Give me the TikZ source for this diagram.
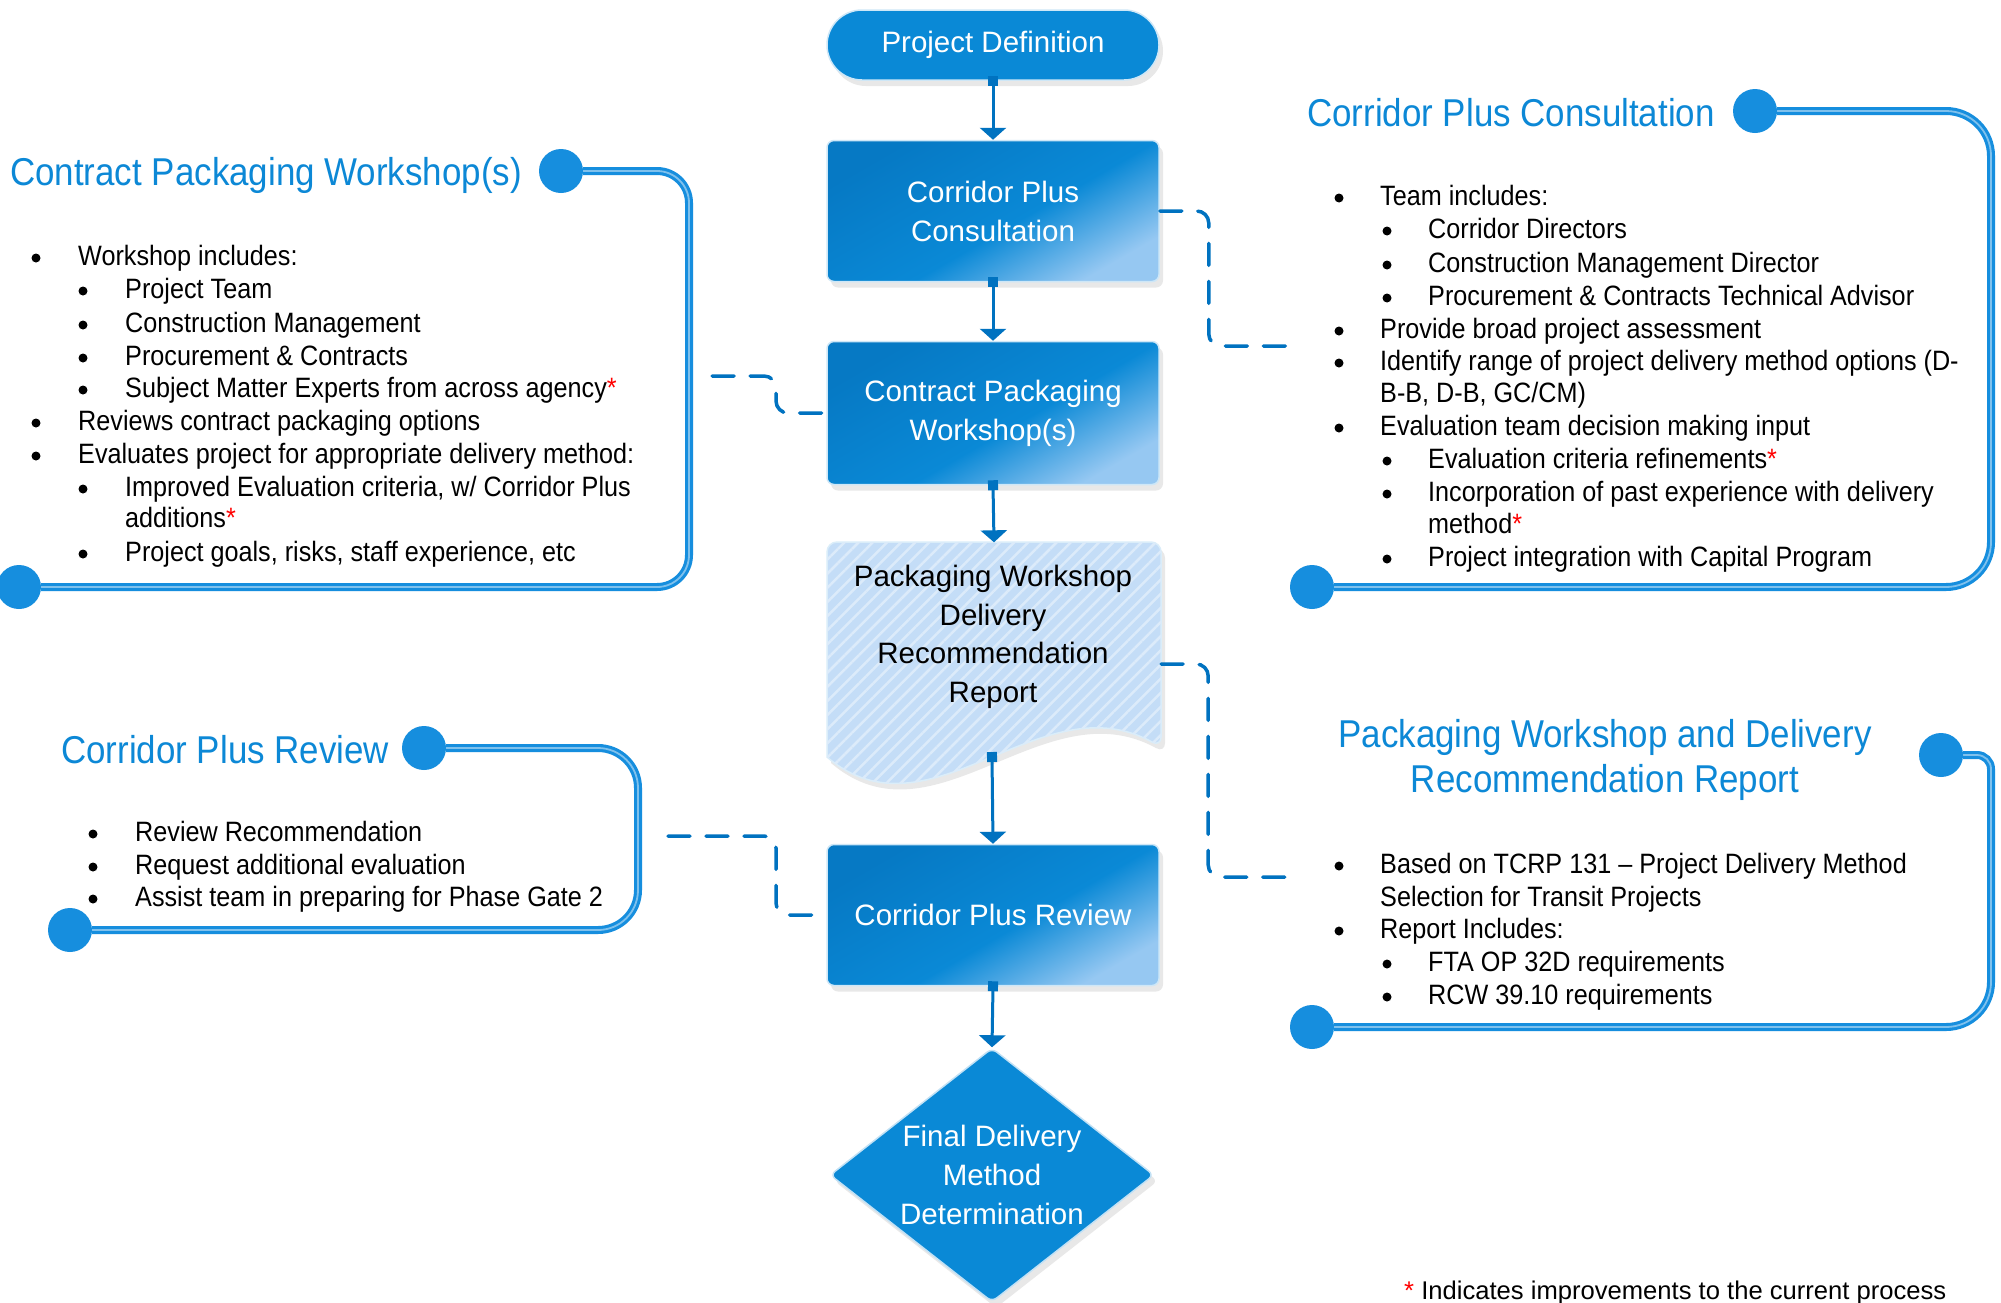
\documentclass[tikz,border=0pt]{standalone}
\usepackage{fontspec}
\setmainfont{Liberation Sans}
\newfontfamily\panelfont[FakeStretch=0.9]{Liberation Sans}
\usetikzlibrary{arrows.meta,shapes.geometric,shadows,patterns.meta}
\definecolor{boxblue}{RGB}{10,137,214}
\definecolor{boxdeep}{RGB}{6,121,196}
\definecolor{boxlite}{RGB}{150,200,242}
\definecolor{lineblue}{RGB}{0,114,192}
\definecolor{titleblue}{RGB}{12,136,214}
\definecolor{framblue}{RGB}{22,142,222}
\definecolor{repfill}{RGB}{196,221,247}
\pgfdeclareverticalshading{boxshade}{100bp}{color(0bp)=(boxlite); color(25bp)=(boxlite); color(45bp)=(boxblue); color(75bp)=(boxdeep); color(100bp)=(boxdeep)}

\begin{document}
\begin{tikzpicture}[x=1pt,y=-1pt,
  box/.style={rectangle,rounded corners=7pt,minimum width=332pt,minimum height=141pt,inner sep=0pt,align=center,text=white,
    font=\fontsize{29.5}{39}\selectfont,shade,shading=boxshade,shading angle=30,draw=white!80!boxblue,line width=1.5pt,
    drop shadow={opacity=0.18,shadow xshift=4pt,shadow yshift=-6pt}},
  flow/.style={draw=lineblue,line width=3pt,arrows={Square[length=10pt,width=10pt]-Triangle[length=12pt,width=26pt]},shorten <=-5pt},
  dashcon/.style={draw=lineblue,line width=3.5pt,line cap=round,dash pattern=on 22pt off 16pt,rounded corners=12pt},
  frame/.style={draw=framblue,line width=8pt,rounded corners=40pt,postaction={draw=white!45!framblue,line width=1.8pt}},
  title/.style={anchor=west,inner sep=0pt,text=titleblue,font=\panelfont\fontsize{38.8}{45}\selectfont},
  itm/.style={anchor=west,inner sep=0pt,font=\panelfont\fontsize{28}{33}\selectfont,text height=20pt,text depth=6pt}]

\path[use as bounding box,fill=white] (0,0) rectangle (2001,1302);

% main flow
\node[box,rounded corners=35pt,minimum height=70pt,shading=axis,top color=boxblue,bottom color=boxblue] (pd) at (993,45) {Project Definition};
\node[box] (cpc) at (993,211) {Corridor Plus\\Consultation};
\node[box,minimum height=143pt] (cpw) at (993,413) {Contract Packaging\\Workshop(s)};

\draw[draw=white!85!boxblue,line width=1.5pt,fill=repfill,rounded corners=10pt,
  drop shadow={opacity=0.18,shadow xshift=4pt,shadow yshift=-6pt},
  postaction={pattern={Lines[angle=45,distance=10pt,line width=2.5pt]},pattern color=white!40!repfill}]
  (827,757) -- (827,542) -- (1161,542) -- (1161,747) [sharp corners] .. controls (1040,680) and (930,845) .. (827,757) -- cycle;
\node[minimum width=334pt,minimum height=243pt,inner sep=0pt] (rep) at (994,664) {};
\node[align=center,font=\fontsize{29.5}{38.5}\selectfont] (reptext) at (993,637) {Packaging Workshop\\Delivery\\Recommendation\\Report};
\coordinate (repb) at (992,757);

\node[box] (cpr) at (993,915) {Corridor Plus Review};
\node[diamond,aspect=1.27,minimum width=324pt,minimum height=254pt,inner sep=0pt,align=center,text=white,
  font=\fontsize{29.5}{39}\selectfont,fill=boxblue,draw=white!75!boxblue,line width=1.5pt,rounded corners=6pt,
  drop shadow={opacity=0.18,shadow xshift=4pt,shadow yshift=-6pt}] (fdm) at (992,1175) {Final Delivery\\Method\\Determination};

\draw[flow] (pd.south) -- (cpc.north);
\draw[flow] (cpc.south) -- (cpw.north);
\draw[flow] (cpw.south) -- (rep.north);
\draw[flow] (repb) -- (cpr.north);
\draw[flow] (cpr.south) -- (fdm.north);

% dashed links to the panels
\coordinate (cpcend) at (1291,346);
\coordinate (cpwend) at (712,376);
\coordinate (repend) at (1291,877);
\coordinate (cprend) at (668,836);
\draw[dashcon] (cpc.east) -- ++(49,0) |- (cpcend);
\draw[dashcon] (cpwend) -- ++(64,0) |- (cpw.west);
\draw[dashcon] (rep.east) -- ++(47,0) |- (repend);
\draw[dashcon] (cprend) -- ++(108,0) |- (cpr.west);

% Contract Packaging Workshop(s) panel
\draw[frame,rounded corners=32pt] (583,171) -- (689,171) -- (689,587) -- (41,587);
\fill[framblue] (561,171) circle (22);
\fill[framblue] (19,587) circle (22);
\node[title] (cpwtitle) at (10,175) {Contract Packaging Workshop(s)};
\foreach \yy/\xx/\bul/\txt in {
  258/0/1/{Workshop includes:},
  291/1/1/{Project Team},
  325/1/1/{Construction Management},
  358/1/1/{Procurement \& Contracts},
  390/1/1/{Subject Matter Experts from across agency\textcolor{red}{*}},
  423/0/1/{Reviews contract packaging options},
  456/0/1/{Evaluates project for appropriate delivery method:},
  489/1/1/{Improved Evaluation criteria, w/ Corridor Plus},
  520/1/0/{additions\textcolor{red}{*}},
  554/1/1/{Project goals, risks, staff experience, etc}}
{
  \ifnum\bul=1 \fill (36+47*\xx,\yy) circle (4.5); \fi
  \node[itm] (cpw\yy) at (78+47*\xx,\yy) {\txt};
}

% Corridor Plus Consultation panel
\draw[frame,rounded corners=45pt] (1777,111) -- (1991,111) -- (1991,587) -- (1334,587);
\fill[framblue] (1755,111) circle (22);
\fill[framblue] (1312,587) circle (22);
\node[title] (cpctitle) at (1307,113) {Corridor Plus Consultation};
\foreach \yy/\xx/\bul/\txt in {
  198/0/1/{Team includes:},
  231/1/1/{Corridor Directors},
  265/1/1/{Construction Management Director},
  298/1/1/{Procurement \& Contracts Technical Advisor},
  331/0/1/{Provide broad project assessment},
  363/0/1/{Identify range of project delivery method options (D-},
  395/0/0/{B-B, D-B, GC/CM)},
  428/0/1/{Evaluation team decision making input},
  461/1/1/{Evaluation criteria refinements\textcolor{red}{*}},
  494/1/1/{Incorporation of past experience with delivery},
  526/1/0/{method\textcolor{red}{*}},
  559/1/1/{Project integration with Capital Program}}
{
  \ifnum\bul=1 \fill (1339+48*\xx,\yy) circle (4.5); \fi
  \node[itm] (cpc\yy) at (1380+48*\xx,\yy) {\txt};
}

% Packaging Workshop and Delivery Recommendation Report panel
\draw[frame,rounded corners=14pt] (1963,755) -- (1991,755) [rounded corners=45pt] -- (1991,1027) -- (1334,1027);
\fill[framblue] (1941,755) circle (22);
\fill[framblue] (1312,1027) circle (22);
\node[title,anchor=center,align=center] (reptitle) at (1605,760) {Packaging Workshop and Delivery\\Recommendation Report};
\foreach \yy/\xx/\bul/\txt in {
  866/0/1/{Based on TCRP 131 – Project Delivery Method},
  899/0/0/{Selection for Transit Projects},
  931/0/1/{Report Includes:},
  964/1/1/{FTA OP 32D requirements},
  997/1/1/{RCW 39.10 requirements}}
{
  \ifnum\bul=1 \fill (1339+48*\xx,\yy) circle (4.5); \fi
  \node[itm] (rep\yy) at (1380+48*\xx,\yy) {\txt};
}

% Corridor Plus Review panel
\draw[frame,rounded corners=40pt] (446,748) -- (638,748) -- (638,930) -- (92,930);
\fill[framblue] (424,748) circle (22);
\fill[framblue] (70,930) circle (22);
\node[title] (cprtitle) at (61,750) {Corridor Plus Review};
\foreach \yy/\txt in {834/{Review Recommendation},867/{Request additional evaluation},899/{Assist team in preparing for Phase Gate 2}}
{
  \fill (93,\yy) circle (4.5);
  \node[itm] (cpr\yy) at (135,\yy) {\txt};
}

\node[anchor=base west,inner sep=0pt,font=\fontsize{25.6}{30}\selectfont] (note) at (1404,1299) {\textcolor{red}{*} Indicates improvements to the current process};

\end{tikzpicture}
\end{document}
